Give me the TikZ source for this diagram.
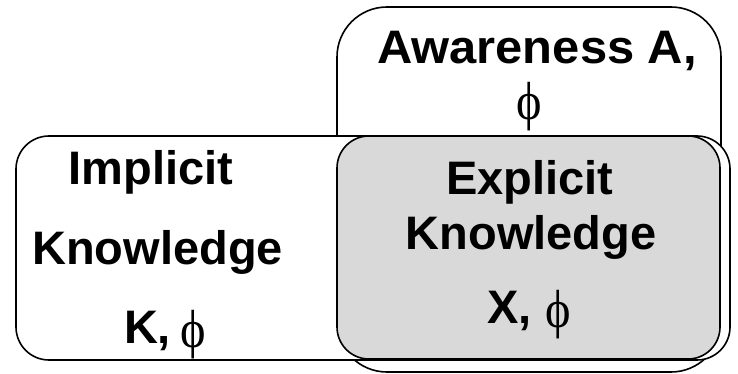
\documentclass[tikz,border=0pt]{standalone}
\usepackage{fontspec}
\setmainfont{Liberation Sans}
\newfontfamily\phifont{Liberation Serif}
\usepackage{graphicx}
\definecolor{explicitfill}{RGB}{217,217,217}
% serif phi with a long stem, as in the Symbol face
\newcommand{\phisym}{\raisebox{-4pt}{\scalebox{1.1}[1.22]{\phifont\mdseries\fontsize{44}{48}\selectfont\char"03D5}}}
\begin{document}
\begin{tikzpicture}[x=1pt,y=1pt,
  region/.style={draw=black,line width=1.6pt},
  label/.style={anchor=base,inner sep=0pt,font=\fontsize{47}{52}\selectfont\bfseries}]
\useasboundingbox (0,0) rectangle (738,-374);
% awareness region
\draw[region,fill=white,rounded corners=50pt] (337,-7) rectangle (721,-372);
% implicit knowledge region
\draw[region,fill=white,rounded corners=33pt] (16,-136) rectangle (730,-360);
% explicit knowledge region
\draw[region,fill=explicitfill,rounded corners=32pt] (337,-136) rectangle (720,-359);
% labels
\node[label] (aw) at (537,-64) {\scalebox{1.04}[1]{Awareness A,}};
\node[label] (awphi) at (529,-116) {\phisym};
\node[label] (im1) at (151,-185) {Implicit};
\node[label] (im2) at (157.5,-264) {Knowledge};
\node[label] (im3) at (165,-343) {K,\hspace{0.2em}\phisym};
\node[label] (ex1) at (530,-194) {Explicit};
\node[label] (ex2) at (531,-249) {Knowledge};
\node[label] (ex3) at (529,-323) {X, \phisym};
\end{tikzpicture}
\end{document}
